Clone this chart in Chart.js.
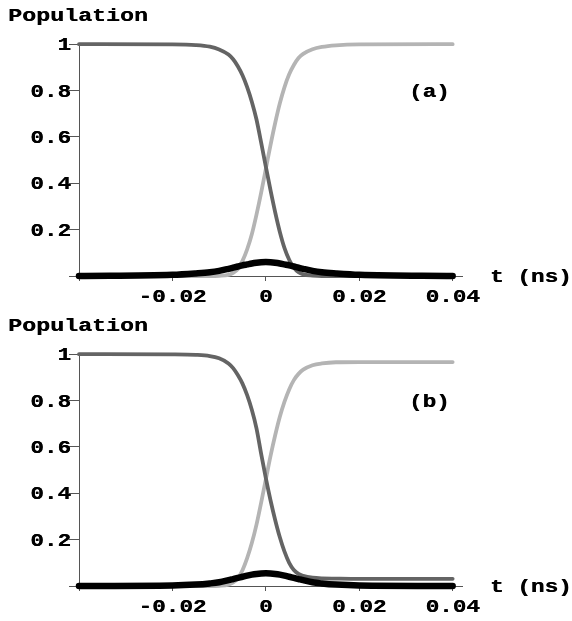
<!DOCTYPE html>
<html>
<head>
<meta charset="utf-8">
<script src="https://cdn.jsdelivr.net/npm/chart.js@4.4.1/dist/chart.umd.min.js"></script>
<style>
  html, body { margin: 0; padding: 0; background: #ffffff; }
  .panel { position: absolute; left: 0; width: 572px; height: 310px; }
</style>
</head>
<body>
<div class="panel" style="top:0"><canvas id="chartA" width="572" height="310"></canvas></div>
<div class="panel" style="top:310px"><canvas id="chartB" width="572" height="310"></canvas></div>
<script>
// time grid (ns)
const tValues = [-0.04, -0.02, -0.015, -0.012, -0.01, -0.008, -0.007, -0.006, -0.005, -0.004, -0.003, -0.002, -0.001, 0,
  0.001, 0.002, 0.003, 0.004, 0.005, 0.006, 0.007, 0.008, 0.01, 0.012, 0.015, 0.02, 0.04];

// panel (a)
const darkA = [1, 0.999, 0.996, 0.989, 0.977, 0.955, 0.935, 0.905, 0.866, 0.815, 0.752, 0.675, 0.575, 0.472,
  0.37, 0.275, 0.19, 0.12, 0.07, 0.036, 0.016, 0.007, 0.002, 0, 0, 0, 0];
const lightA = [0, 0, 0, 0, 0.001, 0.005, 0.013, 0.03, 0.065, 0.115, 0.18, 0.265, 0.36, 0.462,
  0.565, 0.66, 0.745, 0.815, 0.87, 0.91, 0.94, 0.958, 0.978, 0.988, 0.995, 0.999, 1];
const blackA = [0, 0.005, 0.011, 0.016, 0.022, 0.031, 0.036, 0.041, 0.046, 0.05, 0.054, 0.057, 0.059, 0.06,
  0.059, 0.057, 0.054, 0.05, 0.046, 0.041, 0.036, 0.031, 0.022, 0.016, 0.011, 0.005, 0];

// panel (b)
const darkB = [1, 0.999, 0.997, 0.992, 0.982, 0.96, 0.94, 0.91, 0.873, 0.823, 0.76, 0.68, 0.57, 0.465,
  0.37, 0.285, 0.21, 0.148, 0.1, 0.069, 0.052, 0.044, 0.036, 0.033, 0.032, 0.031, 0.031];
const lightB = [0, 0, 0, 0, 0.001, 0.006, 0.015, 0.033, 0.068, 0.12, 0.185, 0.265, 0.36, 0.46,
  0.56, 0.65, 0.73, 0.795, 0.848, 0.888, 0.915, 0.933, 0.952, 0.96, 0.965, 0.966, 0.966];
const blackB = [0, 0.002, 0.006, 0.011, 0.016, 0.025, 0.03, 0.035, 0.04, 0.045, 0.049, 0.052, 0.054, 0.055,
  0.054, 0.052, 0.049, 0.045, 0.04, 0.035, 0.03, 0.025, 0.016, 0.011, 0.006, 0.002, 0];

const xTicks = [-0.04, -0.02, 0, 0.02, 0.04];
const xTickLabels = ['', '-0.02', '0', '0.02', '0.04'];
const yTicks = [0, 0.2, 0.4, 0.6, 0.8, 1];
const yTickLabels = ['', '0.2', '0.4', '0.6', '0.8', '1'];

const SX = 1.26; // mathematica courier looks stretched sideways
const FONT = '"Liberation Mono", "Courier New", monospace';

function drawText(ctx, str, x, y, align, size, baseline) {
  ctx.save();
  ctx.font = 'bold ' + size + 'px ' + FONT;
  ctx.textBaseline = baseline || 'middle';
  ctx.textAlign = 'left';
  const w = ctx.measureText(str).width * SX;
  let x0 = x;
  if (align === 'right') x0 = x - w;
  else if (align === 'center') x0 = x - w / 2;
  ctx.translate(x0, y);
  ctx.scale(SX, 1);
  ctx.fillStyle = '#000';
  ctx.fillText(str, 0, 0);
  // a second pass slightly offset to thicken the strokes a little
  ctx.fillText(str, 0.35, 0);
  ctx.restore();
}

function makeChart(id, dark, light, black, tag) {
  const canvas = document.getElementById(id);
  const ctx = canvas.getContext('2d');
  const toPts = (arr) => tValues.map((t, i) => ({ x: t, y: arr[i] }));

  const labelPlugin = {
    id: 'mmaLabels',
    afterDraw: (chart) => {
      const { ctx, chartArea } = chart;
      const xs = chart.scales.x;
      const ys = chart.scales.y;

      drawText(ctx, 'Population', 8, 21, 'left', 18.5, 'alphabetic');

      yTicks.forEach((v, i) => {
        if (!yTickLabels[i]) return;
        drawText(ctx, yTickLabels[i], 71, ys.getPixelForValue(v) + 1.5, 'right', 18);
      });
      xTicks.forEach((v, i) => {
        if (!xTickLabels[i]) return;
        drawText(ctx, xTickLabels[i], xs.getPixelForValue(v), chartArea.bottom + 21, 'center', 18);
      });

      drawText(ctx, tag, xs.getPixelForValue(0.035), ys.getPixelForValue(0.79), 'center', 18);
      drawText(ctx, 't (ns)', chartArea.right + 28, chartArea.bottom + 1, 'left', 18);
    }
  };

  return new Chart(ctx, {
    type: 'line',
    data: {
      datasets: [
        { data: toPts(black), borderColor: '#000000', borderWidth: 6.5, order: 0 },
        { data: toPts(dark), borderColor: '#646464', borderWidth: 3.8, order: 1 },
        { data: toPts(light), borderColor: '#b4b4b4', borderWidth: 3.8, order: 2 }
      ]
    },
    options: {
      responsive: false,
      animation: false,
      datasets: {
        line: {
          pointRadius: 0,
          cubicInterpolationMode: 'monotone',
          borderCapStyle: 'round',
          borderJoinStyle: 'round',
          fill: false,
          clip: false
        }
      },
      layout: { padding: { top: 43, right: 110, left: 0, bottom: 0 } },
      plugins: {
        legend: { display: false },
        tooltip: { enabled: false },
        title: { display: false }
      },
      scales: {
        x: {
          type: 'linear',
          min: -0.04,
          max: 0.042,
          afterBuildTicks: (s) => { s.ticks = xTicks.map(v => ({ value: v })); },
          afterFit: (s) => { s.height = 34; },
          ticks: { display: false },
          grid: { drawOnChartArea: false, drawTicks: true, tickLength: 5, color: '#555', lineWidth: 1 },
          border: { display: true, color: '#555', width: 1 }
        },
        y: {
          type: 'linear',
          min: 0,
          max: 1.005,
          afterBuildTicks: (s) => { s.ticks = yTicks.map(v => ({ value: v })); },
          afterFit: (s) => { s.width = 79; },
          ticks: { display: false },
          grid: { drawOnChartArea: false, drawTicks: true, tickLength: 10, color: '#555', lineWidth: 1 },
          border: { display: true, color: '#555', width: 1 }
        }
      }
    },
    plugins: [labelPlugin]
  });
}

document.addEventListener('DOMContentLoaded', () => {
  makeChart('chartA', darkA, lightA, blackA, '(a)');
  makeChart('chartB', darkB, lightB, blackB, '(b)');
});
</script>
</body>
</html>
